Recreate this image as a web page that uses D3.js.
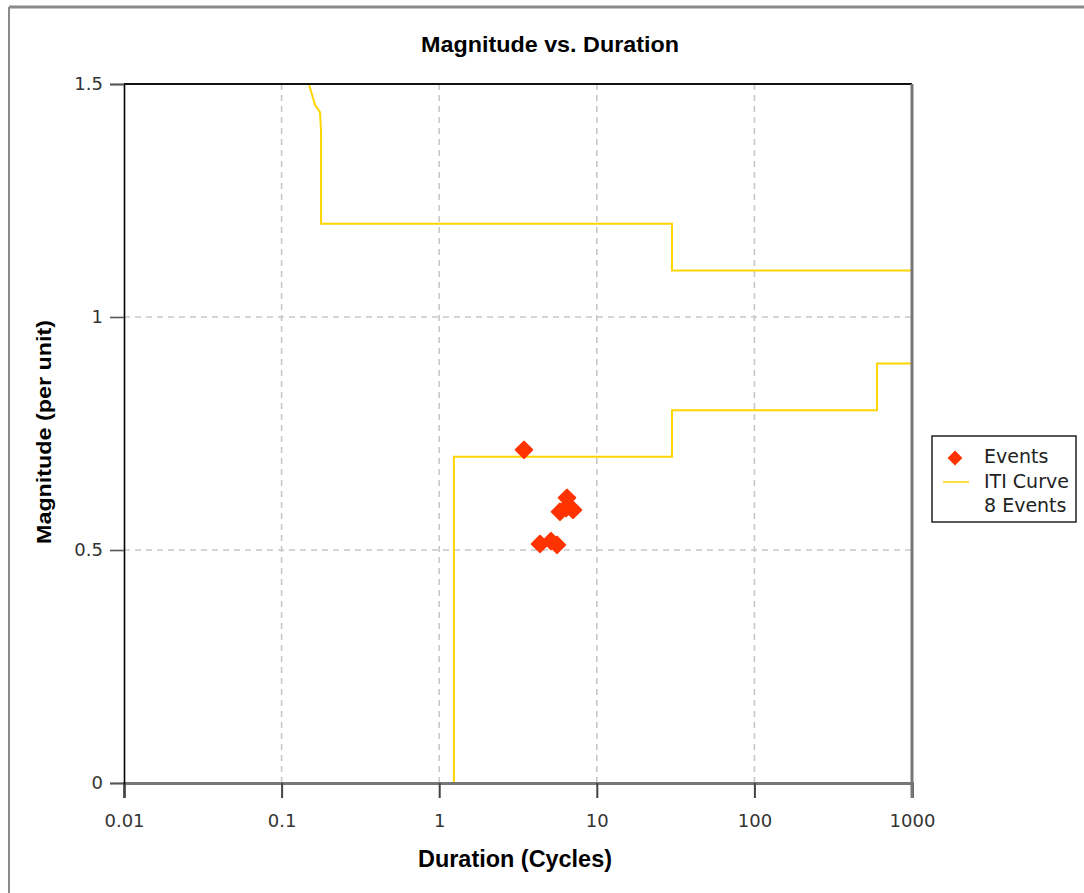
<!DOCTYPE html>
<html>
<head>
<meta charset="utf-8">
<script src="https://cdn.jsdelivr.net/npm/d3@7"></script>
<style>
  html, body { margin: 0; padding: 0; background: #fff; }
  svg { display: block; }
</style>
</head>
<body>
<svg id="chart" width="1084" height="893" font-family="Liberation Sans, Arial, sans-serif"></svg>
<script>
// Event durations (cycles) and magnitudes (per unit)
const eventDuration  = [3.45, 6.47, 5.84, 7.06, 6.38, 4.36, 5.12, 5.59];
const eventMagnitude = [0.715, 0.612, 0.582, 0.586, 0.590, 0.513, 0.519, 0.511];

// ITI curve, upper (overvoltage) envelope
const itiUpperDuration  = [0.149, 0.163, 0.175, 0.178, 0.178, 30, 30, 1000];
const itiUpperMagnitude = [1.5, 1.455, 1.44, 1.4, 1.2, 1.2, 1.1, 1.1];

// ITI curve, lower (undervoltage) envelope
const itiLowerDuration  = [1.24, 1.24, 30, 30, 600, 600, 1000];
const itiLowerMagnitude = [0, 0.7, 0.7, 0.8, 0.8, 0.9, 0.9];

const xTicks = [0.01, 0.1, 1, 10, 100, 1000];
const yTicks = [0, 0.5, 1, 1.5];

const legendLabels = ["Events", "ITI Curve", "8 Events"];

const tickFont = "DejaVu Sans, Verdana, sans-serif";
const svg = d3.select("#chart");

// Outer frame
svg.append("line").attr("x1", 9).attr("x2", 1084).attr("y1", 7).attr("y2", 7)
  .attr("stroke", "#8a8a8a").attr("stroke-width", 3);
svg.append("line").attr("x1", 9).attr("x2", 9).attr("y1", 7).attr("y2", 893)
  .attr("stroke", "#8a8a8a").attr("stroke-width", 2);

const plotLeft = 124, plotRight = 912, plotTop = 84, plotBottom = 783;
const x = d3.scaleLog().domain([0.01, 1000]).range([plotLeft, plotRight]);
const y = d3.scaleLinear().domain([0, 1.5]).range([plotBottom, plotTop]);

// Dashed grid
const grid = svg.append("g");
grid.selectAll("line.vx").data(xTicks.slice(1, -1)).join("line")
  .attr("class", "vx")
  .attr("x1", d => x(d)).attr("x2", d => x(d)).attr("y1", plotTop).attr("y2", plotBottom)
  .attr("stroke", "#c8c8c8").attr("stroke-width", 1.6).attr("stroke-dasharray", "6,5");
grid.selectAll("line.hy").data(yTicks.slice(1, -1)).join("line")
  .attr("class", "hy")
  .attr("x1", plotLeft).attr("x2", plotRight).attr("y1", d => y(d)).attr("y2", d => y(d))
  .attr("stroke", "#c8c8c8").attr("stroke-width", 1.6).attr("stroke-dasharray", "6,5");

// ITI curves
const line = d3.line().x(d => x(d[0])).y(d => y(d[1]));
const upper = itiUpperDuration.map((d, i) => [d, itiUpperMagnitude[i]]);
const lower = itiLowerDuration.map((d, i) => [d, itiLowerMagnitude[i]]);
[upper, lower].forEach(pts => {
  svg.append("path").datum(pts).attr("d", line)
    .attr("fill", "none").attr("stroke", "#ffd500").attr("stroke-width", 2);
});

// Event markers
const diamond = d3.symbol().type(d3.symbolSquare).size(135);
svg.append("g").selectAll("path").data(eventDuration).join("path")
  .attr("d", diamond)
  .attr("transform", (d, i) => `translate(${x(d)},${y(eventMagnitude[i])}) rotate(45)`)
  .attr("fill", "#ff3300")
  .attr("stroke", "#ff3300").attr("stroke-width", 2).attr("stroke-linejoin", "round");

// Axes
const xAxis = d3.axisBottom(x).tickValues(xTicks).tickFormat(d3.format("~g")).tickSize(15).tickPadding(16);
const gx = svg.append("g").attr("transform", `translate(0,${plotBottom})`).call(xAxis);
gx.attr("font-family", tickFont).attr("font-size", 18);
gx.select(".domain").attr("stroke", "#777").attr("stroke-width", 3);
gx.selectAll(".tick line").attr("stroke", "#444").attr("stroke-width", 2);
gx.selectAll(".tick text").attr("fill", "#333");

const yAxis = d3.axisLeft(y).tickValues(yTicks).tickFormat(d3.format("~g")).tickSize(14).tickPadding(7);
const gy = svg.append("g").attr("transform", `translate(${plotLeft},0)`).call(yAxis);
gy.attr("font-family", tickFont).attr("font-size", 18);
gy.select(".domain").attr("stroke", "#000").attr("stroke-width", 1.6);
gy.selectAll(".tick line").attr("stroke", "#555").attr("stroke-width", 1.6);
gy.selectAll(".tick text").attr("fill", "#333");

// Plot border (top and right)
svg.append("line").attr("x1", plotLeft).attr("x2", plotRight).attr("y1", plotTop).attr("y2", plotTop)
  .attr("stroke", "#111").attr("stroke-width", 2);
svg.append("line").attr("x1", plotRight).attr("x2", plotRight).attr("y1", plotTop).attr("y2", plotBottom + 15)
  .attr("stroke", "#777").attr("stroke-width", 3);

// Titles
svg.append("text").attr("x", 550).attr("y", 52).attr("text-anchor", "middle")
  .attr("font-size", 22).attr("font-weight", "bold")
  .attr("textLength", 258).attr("lengthAdjust", "spacingAndGlyphs")
  .text("Magnitude vs. Duration");
svg.append("text").attr("x", 515).attr("y", 867).attr("text-anchor", "middle")
  .attr("font-size", 23).attr("font-weight", "bold")
  .attr("textLength", 194).attr("lengthAdjust", "spacingAndGlyphs")
  .text("Duration (Cycles)");
svg.append("text").attr("transform", "translate(51,432) rotate(-90)").attr("text-anchor", "middle")
  .attr("font-size", 21).attr("font-weight", "bold")
  .attr("textLength", 224).attr("lengthAdjust", "spacingAndGlyphs")
  .text("Magnitude (per unit)");

// Legend
const lg = svg.append("g");
lg.append("rect").attr("x", 932).attr("y", 436).attr("width", 144).attr("height", 86)
  .attr("fill", "#fff").attr("stroke", "#222").attr("stroke-width", 1.5);
lg.append("path").attr("d", d3.symbol().type(d3.symbolSquare).size(80))
  .attr("transform", "translate(955,458) rotate(45)")
  .attr("fill", "#ff3300").attr("stroke", "#ff3300").attr("stroke-width", 1.5);
lg.append("line").attr("x1", 943).attr("x2", 969).attr("y1", 482).attr("y2", 482)
  .attr("stroke", "#ffd500").attr("stroke-width", 1.5);
lg.selectAll("text").data(legendLabels).join("text")
  .attr("x", 984).attr("y", (d, i) => [463, 488, 512][i])
  .attr("font-size", 19).attr("font-family", tickFont).attr("fill", "#222").text(d => d);
</script>
</body>
</html>
